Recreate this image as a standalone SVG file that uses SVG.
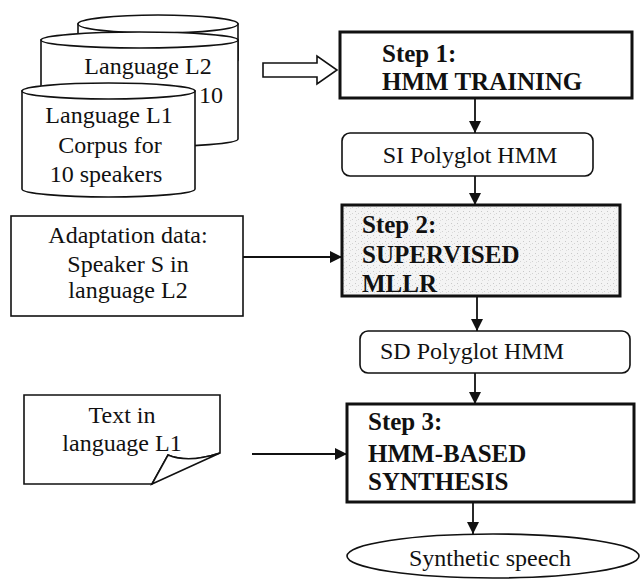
<svg xmlns="http://www.w3.org/2000/svg" width="640" height="579" viewBox="0 0 640 579">
<style>
  text { font-family: "Liberation Serif", "Times New Roman", serif; fill: #111; }
  .reg { font-size: 24px; }
  .bold { font-size: 25px; font-weight: bold; }
  .mid { text-anchor: middle; }
  .shape { fill: #fff; stroke: #111; stroke-width: 1.6; }
  .step { fill: #fff; stroke: #111; stroke-width: 3; }
  .conn { stroke: #111; stroke-width: 1.8; fill: none; marker-end: url(#ah); }
</style>
<defs>
  <marker id="ah" viewBox="0 0 12 12" refX="12" refY="6" markerWidth="12" markerHeight="12" markerUnits="userSpaceOnUse" orient="auto">
    <path d="M0,0 L12,6 L0,12 Z" fill="#111"/>
  </marker>
  <pattern id="stip" width="6" height="6" patternUnits="userSpaceOnUse">
    <rect width="6" height="6" fill="#f4f4f4"/>
    <rect x="1" y="1" width="1" height="1" fill="#c8c8c8"/>
    <rect x="4" y="3" width="1" height="1" fill="#d2d2d2"/>
    <rect x="2" y="4" width="1" height="1" fill="#dcdcdc"/>
  </pattern>
</defs>

<g id="corpus-back">
  <path class="shape" d="M78,24 L78,60 A80,9 0 0 0 238,60 L238,24 Z"/>
  <ellipse class="shape" cx="158" cy="24" rx="80" ry="9"/>
</g>
<g id="corpus-l2">
  <path class="shape" d="M41,40 L41,139 A98.5,8 0 0 0 238,139 L238,40 Z"/>
  <ellipse class="shape" cx="139.5" cy="40" rx="98.5" ry="8"/>
  <text class="reg mid" x="148" y="74">Language L2</text>
  <text class="reg" x="199" y="103">10</text>
</g>
<g id="corpus-l1">
  <path class="shape" d="M22,91 L22,189 A86.5,8 0 0 0 195,189 L195,91 Z"/>
  <ellipse class="shape" cx="108.5" cy="91" rx="86.5" ry="8"/>
  <text class="reg mid" x="109" y="123">Language L1</text>
  <text class="reg mid" x="110" y="153">Corpus for</text>
  <text class="reg mid" x="106" y="182">10 speakers</text>
</g>

<g id="step1">
  <rect class="step" x="340" y="32" width="292" height="66"/>
  <text class="bold" x="382" y="62">Step 1:</text>
  <text class="bold" x="382" y="90">HMM TRAINING</text>
</g>
<g id="si-hmm">
  <rect class="shape" x="342" y="133" width="251" height="43" rx="8"/>
  <text class="reg mid" x="470" y="163">SI Polyglot HMM</text>
</g>
<g id="adaptation">
  <rect class="shape" x="11" y="216" width="232" height="100"/>
  <text class="reg mid" x="128" y="243">Adaptation data:</text>
  <text class="reg mid" x="128" y="272">Speaker S in</text>
  <text class="reg mid" x="128" y="298">language L2</text>
</g>
<g id="step2">
  <rect x="342" y="205" width="278" height="91" fill="url(#stip)" stroke="#111" stroke-width="3"/>
  <text class="bold" x="362" y="233">Step 2:</text>
  <text class="bold" x="362" y="263">SUPERVISED</text>
  <text class="bold" x="362" y="292">MLLR</text>
</g>
<g id="sd-hmm">
  <rect class="shape" x="360" y="331" width="270" height="42" rx="8"/>
  <text class="reg" x="380" y="359">SD Polyglot HMM</text>
</g>
<g id="text-l1">
  <path class="shape" d="M24,395 L220,395 L220,453 C205,458 185,462 168,455 L152,484 L24,484 Z"/>
  <path class="shape" d="M168,455 C185,462 205,458 220,453 L152,484 Z"/>
  <text class="reg mid" x="122" y="423">Text in</text>
  <text class="reg mid" x="122" y="451">language L1</text>
</g>
<g id="step3">
  <rect class="step" x="347" y="404" width="287" height="98"/>
  <text class="bold" x="368" y="430">Step 3:</text>
  <text class="bold" x="368" y="462">HMM-BASED</text>
  <text class="bold" x="368" y="490">SYNTHESIS</text>
</g>
<g id="speech">
  <ellipse class="shape" cx="493" cy="556" rx="146" ry="22"/>
  <text class="reg mid" x="490" y="566">Synthetic speech</text>
</g>

<g id="connectors">
  <polygon points="263,63 317,63 317,56 337,70 317,84 317,77 263,77" fill="#fff" stroke="#111" stroke-width="1.6"/>
  <line class="conn" x1="475" y1="98" x2="475" y2="133"/>
  <line class="conn" x1="475" y1="176" x2="475" y2="205"/>
  <line class="conn" x1="243" y1="257" x2="342" y2="257"/>
  <line class="conn" x1="477" y1="296" x2="477" y2="331"/>
  <line class="conn" x1="475" y1="373" x2="475" y2="404"/>
  <line class="conn" x1="252" y1="454" x2="347" y2="454"/>
  <line class="conn" x1="473" y1="502" x2="473" y2="534"/>
</g>
</svg>
